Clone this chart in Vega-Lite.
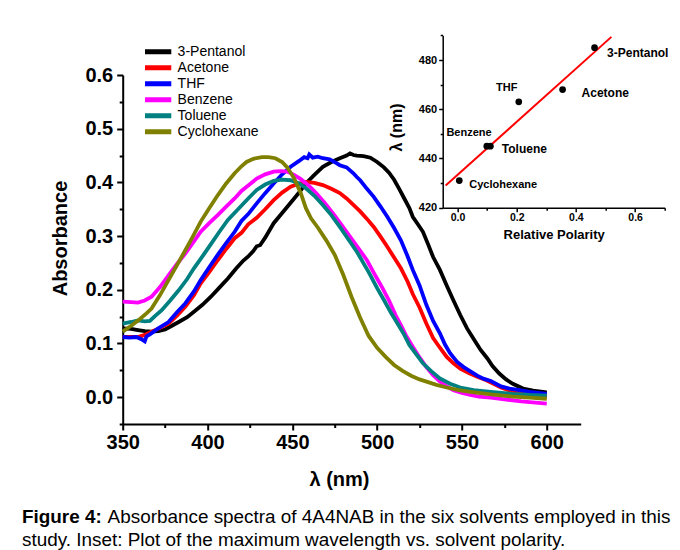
{
  "$schema": "https://vega.github.io/schema/vega-lite/v6.json",
  "autosize": "none",
  "padding": {"left": 122.7, "top": 75, "right": 99.3, "bottom": 126},
  "width": 458,
  "height": 349,
  "background": "white",
  "config": {
    "font": "Liberation Sans",
    "view": {"stroke": null},
    "axis": {"domainColor": "black", "tickColor": "black", "labelColor": "black", "titleColor": "black", "grid": false, "labelFlush": false, "labelOverlap": false, "labelBound": false}
  },
  "title": {
    "text": "Figure 4:",
    "subtitle": "study. Inset: Plot of the maximum wavelength vs. solvent polarity.",
    "orient": "bottom",
    "anchor": "start",
    "frame": "group",
    "dx": -100.7,
    "offset": -18.9,
    "font": "Liberation Sans",
    "fontSize": 18.9,
    "fontWeight": "bold",
    "color": "black",
    "subtitleFont": "Liberation Sans",
    "subtitleFontSize": 18.9,
    "subtitleFontWeight": "normal",
    "subtitleColor": "black",
    "subtitlePadding": 4.1
  },
  "resolve": {"scale": {"x": "independent", "y": "independent", "color": "independent"}},
  "layer": [
    {
      "data": {"values": [
        {"s":"3-Pentanol","w":350,"a":0.128},{"s":"3-Pentanol","w":355,"a":0.127},{"s":"3-Pentanol","w":359,"a":0.125},{"s":"3-Pentanol","w":363,"a":0.123},{"s":"3-Pentanol","w":367,"a":0.122},{"s":"3-Pentanol","w":371,"a":0.123},{"s":"3-Pentanol","w":375,"a":0.126},{"s":"3-Pentanol","w":379,"a":0.133},{"s":"3-Pentanol","w":383,"a":0.14},{"s":"3-Pentanol","w":388,"a":0.149},{"s":"3-Pentanol","w":392,"a":0.159},{"s":"3-Pentanol","w":397,"a":0.172},{"s":"3-Pentanol","w":402,"a":0.187},{"s":"3-Pentanol","w":407,"a":0.204},{"s":"3-Pentanol","w":412,"a":0.221},{"s":"3-Pentanol","w":417,"a":0.24},{"s":"3-Pentanol","w":421,"a":0.254},{"s":"3-Pentanol","w":424,"a":0.262},{"s":"3-Pentanol","w":427,"a":0.272},{"s":"3-Pentanol","w":429,"a":0.281},{"s":"3-Pentanol","w":431,"a":0.283},{"s":"3-Pentanol","w":434,"a":0.297},{"s":"3-Pentanol","w":439,"a":0.324},{"s":"3-Pentanol","w":444,"a":0.343},{"s":"3-Pentanol","w":449,"a":0.362},{"s":"3-Pentanol","w":454,"a":0.381},{"s":"3-Pentanol","w":458,"a":0.398},{"s":"3-Pentanol","w":463,"a":0.414},{"s":"3-Pentanol","w":468,"a":0.429},{"s":"3-Pentanol","w":473,"a":0.438},{"s":"3-Pentanol","w":478,"a":0.445},{"s":"3-Pentanol","w":482,"a":0.45},{"s":"3-Pentanol","w":484,"a":0.454},{"s":"3-Pentanol","w":486,"a":0.451},{"s":"3-Pentanol","w":488,"a":0.45},{"s":"3-Pentanol","w":492,"a":0.449},{"s":"3-Pentanol","w":496,"a":0.446},{"s":"3-Pentanol","w":500,"a":0.438},{"s":"3-Pentanol","w":504,"a":0.428},{"s":"3-Pentanol","w":507,"a":0.418},{"s":"3-Pentanol","w":510,"a":0.405},{"s":"3-Pentanol","w":513,"a":0.388},{"s":"3-Pentanol","w":516,"a":0.37},{"s":"3-Pentanol","w":519,"a":0.352},{"s":"3-Pentanol","w":521,"a":0.336},{"s":"3-Pentanol","w":524,"a":0.322},{"s":"3-Pentanol","w":527,"a":0.308},{"s":"3-Pentanol","w":530,"a":0.285},{"s":"3-Pentanol","w":533,"a":0.261},{"s":"3-Pentanol","w":537,"a":0.237},{"s":"3-Pentanol","w":541,"a":0.208},{"s":"3-Pentanol","w":545,"a":0.18},{"s":"3-Pentanol","w":549,"a":0.153},{"s":"3-Pentanol","w":553,"a":0.128},{"s":"3-Pentanol","w":557,"a":0.108},{"s":"3-Pentanol","w":561,"a":0.088},{"s":"3-Pentanol","w":565,"a":0.072},{"s":"3-Pentanol","w":568,"a":0.058},{"s":"3-Pentanol","w":572,"a":0.044},{"s":"3-Pentanol","w":576,"a":0.033},{"s":"3-Pentanol","w":580,"a":0.025},{"s":"3-Pentanol","w":586,"a":0.016},{"s":"3-Pentanol","w":592,"a":0.012},{"s":"3-Pentanol","w":600,"a":0.009},
        {"s":"Acetone","w":350,"a":0.112},{"s":"Acetone","w":355,"a":0.112},{"s":"Acetone","w":359,"a":0.112},{"s":"Acetone","w":363,"a":0.116},{"s":"Acetone","w":367,"a":0.122},{"s":"Acetone","w":372,"a":0.129},{"s":"Acetone","w":377,"a":0.137},{"s":"Acetone","w":382,"a":0.152},{"s":"Acetone","w":387,"a":0.169},{"s":"Acetone","w":392,"a":0.19},{"s":"Acetone","w":396,"a":0.212},{"s":"Acetone","w":401,"a":0.233},{"s":"Acetone","w":406,"a":0.255},{"s":"Acetone","w":411,"a":0.276},{"s":"Acetone","w":416,"a":0.296},{"s":"Acetone","w":420,"a":0.306},{"s":"Acetone","w":424,"a":0.322},{"s":"Acetone","w":429,"a":0.334},{"s":"Acetone","w":434,"a":0.35},{"s":"Acetone","w":439,"a":0.367},{"s":"Acetone","w":444,"a":0.381},{"s":"Acetone","w":449,"a":0.392},{"s":"Acetone","w":454,"a":0.398},{"s":"Acetone","w":458,"a":0.401},{"s":"Acetone","w":463,"a":0.399},{"s":"Acetone","w":468,"a":0.395},{"s":"Acetone","w":473,"a":0.388},{"s":"Acetone","w":478,"a":0.38},{"s":"Acetone","w":482,"a":0.37},{"s":"Acetone","w":486,"a":0.358},{"s":"Acetone","w":490,"a":0.346},{"s":"Acetone","w":494,"a":0.332},{"s":"Acetone","w":498,"a":0.317},{"s":"Acetone","w":502,"a":0.299},{"s":"Acetone","w":506,"a":0.28},{"s":"Acetone","w":510,"a":0.26},{"s":"Acetone","w":514,"a":0.24},{"s":"Acetone","w":518,"a":0.215},{"s":"Acetone","w":521,"a":0.192},{"s":"Acetone","w":525,"a":0.167},{"s":"Acetone","w":529,"a":0.137},{"s":"Acetone","w":533,"a":0.11},{"s":"Acetone","w":537,"a":0.092},{"s":"Acetone","w":541,"a":0.075},{"s":"Acetone","w":545,"a":0.063},{"s":"Acetone","w":549,"a":0.053},{"s":"Acetone","w":554,"a":0.045},{"s":"Acetone","w":559,"a":0.038},{"s":"Acetone","w":564,"a":0.032},{"s":"Acetone","w":568,"a":0.026},{"s":"Acetone","w":573,"a":0.018},{"s":"Acetone","w":580,"a":0.01},{"s":"Acetone","w":590,"a":0.004},{"s":"Acetone","w":600,"a":0.0},
        {"s":"THF","w":350,"a":0.112},{"s":"THF","w":354,"a":0.111},{"s":"THF","w":358,"a":0.112},{"s":"THF","w":361,"a":0.108},{"s":"THF","w":363,"a":0.104},{"s":"THF","w":364,"a":0.113},{"s":"THF","w":366,"a":0.117},{"s":"THF","w":371,"a":0.128},{"s":"THF","w":377,"a":0.14},{"s":"THF","w":382,"a":0.158},{"s":"THF","w":387,"a":0.175},{"s":"THF","w":392,"a":0.197},{"s":"THF","w":396,"a":0.218},{"s":"THF","w":401,"a":0.242},{"s":"THF","w":406,"a":0.265},{"s":"THF","w":411,"a":0.287},{"s":"THF","w":416,"a":0.308},{"s":"THF","w":420,"a":0.328},{"s":"THF","w":424,"a":0.341},{"s":"THF","w":429,"a":0.361},{"s":"THF","w":434,"a":0.38},{"s":"THF","w":439,"a":0.398},{"s":"THF","w":444,"a":0.415},{"s":"THF","w":449,"a":0.429},{"s":"THF","w":454,"a":0.44},{"s":"THF","w":457,"a":0.447},{"s":"THF","w":459,"a":0.445},{"s":"THF","w":460,"a":0.452},{"s":"THF","w":462,"a":0.446},{"s":"THF","w":465,"a":0.448},{"s":"THF","w":468,"a":0.445},{"s":"THF","w":472,"a":0.443},{"s":"THF","w":476,"a":0.436},{"s":"THF","w":478,"a":0.432},{"s":"THF","w":482,"a":0.428},{"s":"THF","w":486,"a":0.417},{"s":"THF","w":488,"a":0.41},{"s":"THF","w":490,"a":0.404},{"s":"THF","w":494,"a":0.388},{"s":"THF","w":498,"a":0.373},{"s":"THF","w":502,"a":0.355},{"s":"THF","w":506,"a":0.336},{"s":"THF","w":510,"a":0.315},{"s":"THF","w":514,"a":0.292},{"s":"THF","w":518,"a":0.262},{"s":"THF","w":521,"a":0.237},{"s":"THF","w":525,"a":0.208},{"s":"THF","w":529,"a":0.172},{"s":"THF","w":533,"a":0.142},{"s":"THF","w":537,"a":0.119},{"s":"THF","w":540,"a":0.098},{"s":"THF","w":543,"a":0.082},{"s":"THF","w":547,"a":0.066},{"s":"THF","w":551,"a":0.056},{"s":"THF","w":555,"a":0.048},{"s":"THF","w":559,"a":0.04},{"s":"THF","w":563,"a":0.034},{"s":"THF","w":567,"a":0.03},{"s":"THF","w":573,"a":0.02},{"s":"THF","w":578,"a":0.016},{"s":"THF","w":584,"a":0.013},{"s":"THF","w":590,"a":0.01},{"s":"THF","w":600,"a":0.006},
        {"s":"Benzene","w":350,"a":0.178},{"s":"Benzene","w":355,"a":0.177},{"s":"Benzene","w":359,"a":0.176},{"s":"Benzene","w":363,"a":0.18},{"s":"Benzene","w":367,"a":0.187},{"s":"Benzene","w":372,"a":0.205},{"s":"Benzene","w":377,"a":0.227},{"s":"Benzene","w":382,"a":0.248},{"s":"Benzene","w":387,"a":0.268},{"s":"Benzene","w":392,"a":0.29},{"s":"Benzene","w":396,"a":0.308},{"s":"Benzene","w":401,"a":0.324},{"s":"Benzene","w":406,"a":0.339},{"s":"Benzene","w":411,"a":0.355},{"s":"Benzene","w":416,"a":0.37},{"s":"Benzene","w":420,"a":0.384},{"s":"Benzene","w":424,"a":0.394},{"s":"Benzene","w":429,"a":0.407},{"s":"Benzene","w":434,"a":0.415},{"s":"Benzene","w":439,"a":0.42},{"s":"Benzene","w":443,"a":0.421},{"s":"Benzene","w":447,"a":0.42},{"s":"Benzene","w":451,"a":0.414},{"s":"Benzene","w":455,"a":0.406},{"s":"Benzene","w":460,"a":0.393},{"s":"Benzene","w":464,"a":0.38},{"s":"Benzene","w":469,"a":0.362},{"s":"Benzene","w":474,"a":0.342},{"s":"Benzene","w":479,"a":0.321},{"s":"Benzene","w":484,"a":0.299},{"s":"Benzene","w":489,"a":0.277},{"s":"Benzene","w":494,"a":0.255},{"s":"Benzene","w":499,"a":0.226},{"s":"Benzene","w":503,"a":0.204},{"s":"Benzene","w":507,"a":0.18},{"s":"Benzene","w":511,"a":0.152},{"s":"Benzene","w":514,"a":0.134},{"s":"Benzene","w":517,"a":0.115},{"s":"Benzene","w":521,"a":0.094},{"s":"Benzene","w":525,"a":0.074},{"s":"Benzene","w":529,"a":0.056},{"s":"Benzene","w":533,"a":0.041},{"s":"Benzene","w":537,"a":0.029},{"s":"Benzene","w":541,"a":0.02},{"s":"Benzene","w":545,"a":0.013},{"s":"Benzene","w":550,"a":0.008},{"s":"Benzene","w":555,"a":0.004},{"s":"Benzene","w":560,"a":0.001},{"s":"Benzene","w":567,"a":-0.001},{"s":"Benzene","w":575,"a":-0.004},{"s":"Benzene","w":585,"a":-0.008},{"s":"Benzene","w":600,"a":-0.012},
        {"s":"Toluene","w":350,"a":0.137},{"s":"Toluene","w":355,"a":0.14},{"s":"Toluene","w":359,"a":0.143},{"s":"Toluene","w":363,"a":0.141},{"s":"Toluene","w":366,"a":0.142},{"s":"Toluene","w":369,"a":0.151},{"s":"Toluene","w":373,"a":0.162},{"s":"Toluene","w":378,"a":0.18},{"s":"Toluene","w":383,"a":0.199},{"s":"Toluene","w":388,"a":0.22},{"s":"Toluene","w":392,"a":0.24},{"s":"Toluene","w":397,"a":0.262},{"s":"Toluene","w":402,"a":0.285},{"s":"Toluene","w":407,"a":0.308},{"s":"Toluene","w":412,"a":0.33},{"s":"Toluene","w":418,"a":0.35},{"s":"Toluene","w":424,"a":0.37},{"s":"Toluene","w":429,"a":0.386},{"s":"Toluene","w":434,"a":0.396},{"s":"Toluene","w":439,"a":0.403},{"s":"Toluene","w":444,"a":0.405},{"s":"Toluene","w":449,"a":0.404},{"s":"Toluene","w":454,"a":0.398},{"s":"Toluene","w":458,"a":0.389},{"s":"Toluene","w":463,"a":0.375},{"s":"Toluene","w":468,"a":0.358},{"s":"Toluene","w":473,"a":0.339},{"s":"Toluene","w":478,"a":0.317},{"s":"Toluene","w":483,"a":0.294},{"s":"Toluene","w":488,"a":0.271},{"s":"Toluene","w":495,"a":0.233},{"s":"Toluene","w":500,"a":0.203},{"s":"Toluene","w":504,"a":0.181},{"s":"Toluene","w":508,"a":0.158},{"s":"Toluene","w":512,"a":0.137},{"s":"Toluene","w":516,"a":0.116},{"s":"Toluene","w":519,"a":0.097},{"s":"Toluene","w":523,"a":0.08},{"s":"Toluene","w":527,"a":0.063},{"s":"Toluene","w":532,"a":0.048},{"s":"Toluene","w":537,"a":0.035},{"s":"Toluene","w":543,"a":0.025},{"s":"Toluene","w":549,"a":0.018},{"s":"Toluene","w":557,"a":0.013},{"s":"Toluene","w":567,"a":0.01},{"s":"Toluene","w":580,"a":0.006},{"s":"Toluene","w":590,"a":0.004},{"s":"Toluene","w":600,"a":0.003},
        {"s":"Cyclohexane","w":350,"a":0.122},{"s":"Cyclohexane","w":355,"a":0.133},{"s":"Cyclohexane","w":360,"a":0.145},{"s":"Cyclohexane","w":364,"a":0.156},{"s":"Cyclohexane","w":367,"a":0.165},{"s":"Cyclohexane","w":372,"a":0.19},{"s":"Cyclohexane","w":377,"a":0.218},{"s":"Cyclohexane","w":382,"a":0.246},{"s":"Cyclohexane","w":387,"a":0.274},{"s":"Cyclohexane","w":391,"a":0.297},{"s":"Cyclohexane","w":396,"a":0.327},{"s":"Cyclohexane","w":401,"a":0.352},{"s":"Cyclohexane","w":406,"a":0.376},{"s":"Cyclohexane","w":411,"a":0.398},{"s":"Cyclohexane","w":416,"a":0.417},{"s":"Cyclohexane","w":420,"a":0.43},{"s":"Cyclohexane","w":423,"a":0.438},{"s":"Cyclohexane","w":427,"a":0.444},{"s":"Cyclohexane","w":432,"a":0.447},{"s":"Cyclohexane","w":436,"a":0.447},{"s":"Cyclohexane","w":440,"a":0.445},{"s":"Cyclohexane","w":444,"a":0.438},{"s":"Cyclohexane","w":447,"a":0.428},{"s":"Cyclohexane","w":451,"a":0.408},{"s":"Cyclohexane","w":455,"a":0.38},{"s":"Cyclohexane","w":458,"a":0.352},{"s":"Cyclohexane","w":461,"a":0.333},{"s":"Cyclohexane","w":465,"a":0.316},{"s":"Cyclohexane","w":470,"a":0.292},{"s":"Cyclohexane","w":475,"a":0.265},{"s":"Cyclohexane","w":480,"a":0.228},{"s":"Cyclohexane","w":485,"a":0.186},{"s":"Cyclohexane","w":490,"a":0.148},{"s":"Cyclohexane","w":495,"a":0.114},{"s":"Cyclohexane","w":500,"a":0.092},{"s":"Cyclohexane","w":505,"a":0.075},{"s":"Cyclohexane","w":510,"a":0.06},{"s":"Cyclohexane","w":515,"a":0.049},{"s":"Cyclohexane","w":520,"a":0.04},{"s":"Cyclohexane","w":525,"a":0.033},{"s":"Cyclohexane","w":530,"a":0.028},{"s":"Cyclohexane","w":535,"a":0.023},{"s":"Cyclohexane","w":541,"a":0.018},{"s":"Cyclohexane","w":548,"a":0.013},{"s":"Cyclohexane","w":555,"a":0.01},{"s":"Cyclohexane","w":567,"a":0.005},{"s":"Cyclohexane","w":580,"a":0.001},{"s":"Cyclohexane","w":590,"a":-0.001},{"s":"Cyclohexane","w":600,"a":-0.003}
      ]},
      "mark": {"type": "line", "strokeWidth": 3.8, "interpolate": "linear"},
      "encoding": {
        "x": {"field": "w", "type": "quantitative", "scale": {"domain": [350, 620], "nice": false, "zero": false},
          "axis": {"orient": "bottom", "values": [350, 400, 450, 500, 550, 600], "tickSize": 6, "tickWidth": 2, "domainWidth": 2, "labelFontSize": 20, "labelFontWeight": "bold", "labelPadding": 2, "title": "λ (nm)", "titleFontSize": 20, "titleFontWeight": "bold", "titlePadding": 17, "titleX": 216.3}},
        "y": {"field": "a", "type": "quantitative", "scale": {"domain": [-0.05, 0.6], "nice": false, "zero": false},
          "axis": {"orient": "left", "values": [0, 0.1, 0.2, 0.3, 0.4, 0.5, 0.6], "format": ".1f", "tickSize": 6, "tickWidth": 2, "domainWidth": 2, "labelFontSize": 20, "labelFontWeight": "bold", "labelPadding": 4, "title": "Absorbance", "titleFontSize": 20, "titleFontWeight": "bold", "titlePadding": 14, "titleY": 163}},
        "color": {"field": "s", "type": "nominal",
          "scale": {"domain": ["3-Pentanol", "Acetone", "THF", "Benzene", "Toluene", "Cyclohexane"], "range": ["#000000", "#ff0000", "#0000ff", "#ff00ff", "#008080", "#808000"]},
          "legend": {"orient": "none", "legendX": 22.3, "legendY": -30.8, "title": null, "symbolType": "M-1.9,0H1.9", "symbolSize": 259, "symbolStrokeWidth": 5, "labelFontSize": 14, "labelFont": "Liberation Sans", "labelColor": "black", "labelOffset": 10.6, "rowPadding": 0, "clipHeight": 15.2, "padding": 0}}
      }
    },
    {
      "data": {"values": [{"w": 350, "a": 0}]},
      "mark": {"type": "point", "opacity": 0},
      "encoding": {
        "x": {"field": "w", "type": "quantitative", "scale": {"domain": [350, 620], "nice": false, "zero": false},
          "axis": {"orient": "bottom", "values": [375, 425, 475, 525, 575], "tickSize": 3.5, "tickWidth": 2, "domain": false, "labels": false,
            "title": "Absorbance spectra of 4A4NAB in the six solvents employed in this", "titleX": -15.6, "titleY": 83.5, "titleAlign": "left", "titleBaseline": "top", "titleAngle": 0, "titleFont": "Liberation Sans", "titleFontSize": 18.9, "titleFontWeight": "normal", "titleColor": "black"}},
        "y": {"field": "a", "type": "quantitative", "scale": {"domain": [-0.05, 0.6], "nice": false, "zero": false},
          "axis": {"orient": "left", "values": [-0.05, 0.05, 0.15, 0.25, 0.35, 0.45, 0.55], "tickSize": 3.5, "tickWidth": 2, "domain": false, "labels": false, "title": null}}
      }
    },
    {
      "data": {"values": [
        {"s": "3-Pentanol", "p": 0.463, "l": 485},
        {"s": "Acetone", "p": 0.355, "l": 468},
        {"s": "THF", "p": 0.207, "l": 463},
        {"s": "Benzene", "p": 0.111, "l": 445},
        {"s": "Toluene", "p": 0.099, "l": 445},
        {"s": "Cyclohexane", "p": 0.006, "l": 431}
      ]},
      "encoding": {
        "x": {"field": "p", "type": "quantitative", "scale": {"domain": [-0.05, 0.7], "range": [320, 542], "nice": false, "zero": false},
          "axis": {"orient": "bottom", "offset": -216.3, "values": [0, 0.2, 0.4, 0.6], "format": ".1f", "tickSize": 4, "tickWidth": 1.5, "domainWidth": 1.5, "labelFontSize": 10.5, "labelFontWeight": "bold", "labelPadding": 1, "title": "Relative Polarity", "titleFontSize": 13, "titleFontWeight": "bold", "titlePadding": 5}},
        "y": {"field": "l", "type": "quantitative", "scale": {"domain": [420, 490], "range": [132.7, -39.6], "nice": false, "zero": false},
          "axis": {"orient": "left", "offset": -320, "values": [420, 440, 460, 480], "tickSize": 4, "tickWidth": 1.5, "domainWidth": 1.5, "labelFontSize": 11, "labelFontWeight": "bold", "labelPadding": 2, "title": "λ (nm)", "titleFontSize": 16, "titleFontWeight": "bold", "titlePadding": 14, "titleY": 52}}
      },
      "layer": [
        {
          "data": {"values": [{"p": -0.04, "l": 429.0}, {"p": 0.52, "l": 489.4}]},
          "mark": {"type": "line", "color": "#ff0000", "strokeWidth": 2}
        },
        {
          "mark": {"type": "circle", "color": "black", "opacity": 1, "size": 45}
        },
        {
          "transform": [{"filter": "datum.s === '3-Pentanol'"}],
          "mark": {"type": "text", "align": "left", "baseline": "middle", "dx": 12.5, "dy": 5.6, "fontSize": 12, "fontWeight": "bold", "color": "black"},
          "encoding": {"text": {"field": "s"}}
        },
        {
          "transform": [{"filter": "datum.s === 'Acetone'"}],
          "mark": {"type": "text", "align": "left", "baseline": "middle", "dx": 19, "dy": 3, "fontSize": 12, "fontWeight": "bold", "color": "black"},
          "encoding": {"text": {"field": "s"}}
        },
        {
          "transform": [{"filter": "datum.s === 'THF'"}],
          "mark": {"type": "text", "align": "center", "baseline": "middle", "dx": -12, "dy": -14, "fontSize": 11, "fontWeight": "bold", "color": "black"},
          "encoding": {"text": {"field": "s"}}
        },
        {
          "transform": [{"filter": "datum.s === 'Benzene'"}],
          "mark": {"type": "text", "align": "right", "baseline": "middle", "dx": 1.3, "dy": -13, "fontSize": 11, "fontWeight": "bold", "color": "black"},
          "encoding": {"text": {"field": "s"}}
        },
        {
          "transform": [{"filter": "datum.s === 'Toluene'"}],
          "mark": {"type": "text", "align": "left", "baseline": "middle", "dx": 15, "dy": 3, "fontSize": 12, "fontWeight": "bold", "color": "black"},
          "encoding": {"text": {"field": "s"}}
        },
        {
          "transform": [{"filter": "datum.s === 'Cyclohexane'"}],
          "mark": {"type": "text", "align": "left", "baseline": "middle", "dx": 10, "dy": 4, "fontSize": 11, "fontWeight": "bold", "color": "black"},
          "encoding": {"text": {"field": "s"}}
        }
      ]
    },
    {
      "data": {"values": [{"p": 0, "l": 440}]},
      "mark": {"type": "point", "opacity": 0},
      "encoding": {
        "x": {"field": "p", "type": "quantitative", "scale": {"domain": [-0.05, 0.7], "range": [320, 542], "nice": false, "zero": false},
          "axis": {"orient": "bottom", "offset": -216.3, "values": [0.1, 0.3, 0.5, 0.7], "tickSize": 2.5, "tickWidth": 1.5, "domain": false, "labels": false, "title": null}},
        "y": {"field": "l", "type": "quantitative", "scale": {"domain": [420, 490], "range": [132.7, -39.6], "nice": false, "zero": false},
          "axis": {"orient": "left", "offset": -320, "values": [430, 450, 470, 490], "tickSize": 2.5, "tickWidth": 1.5, "domain": false, "labels": false, "title": null}}
      }
    }
  ]
}
